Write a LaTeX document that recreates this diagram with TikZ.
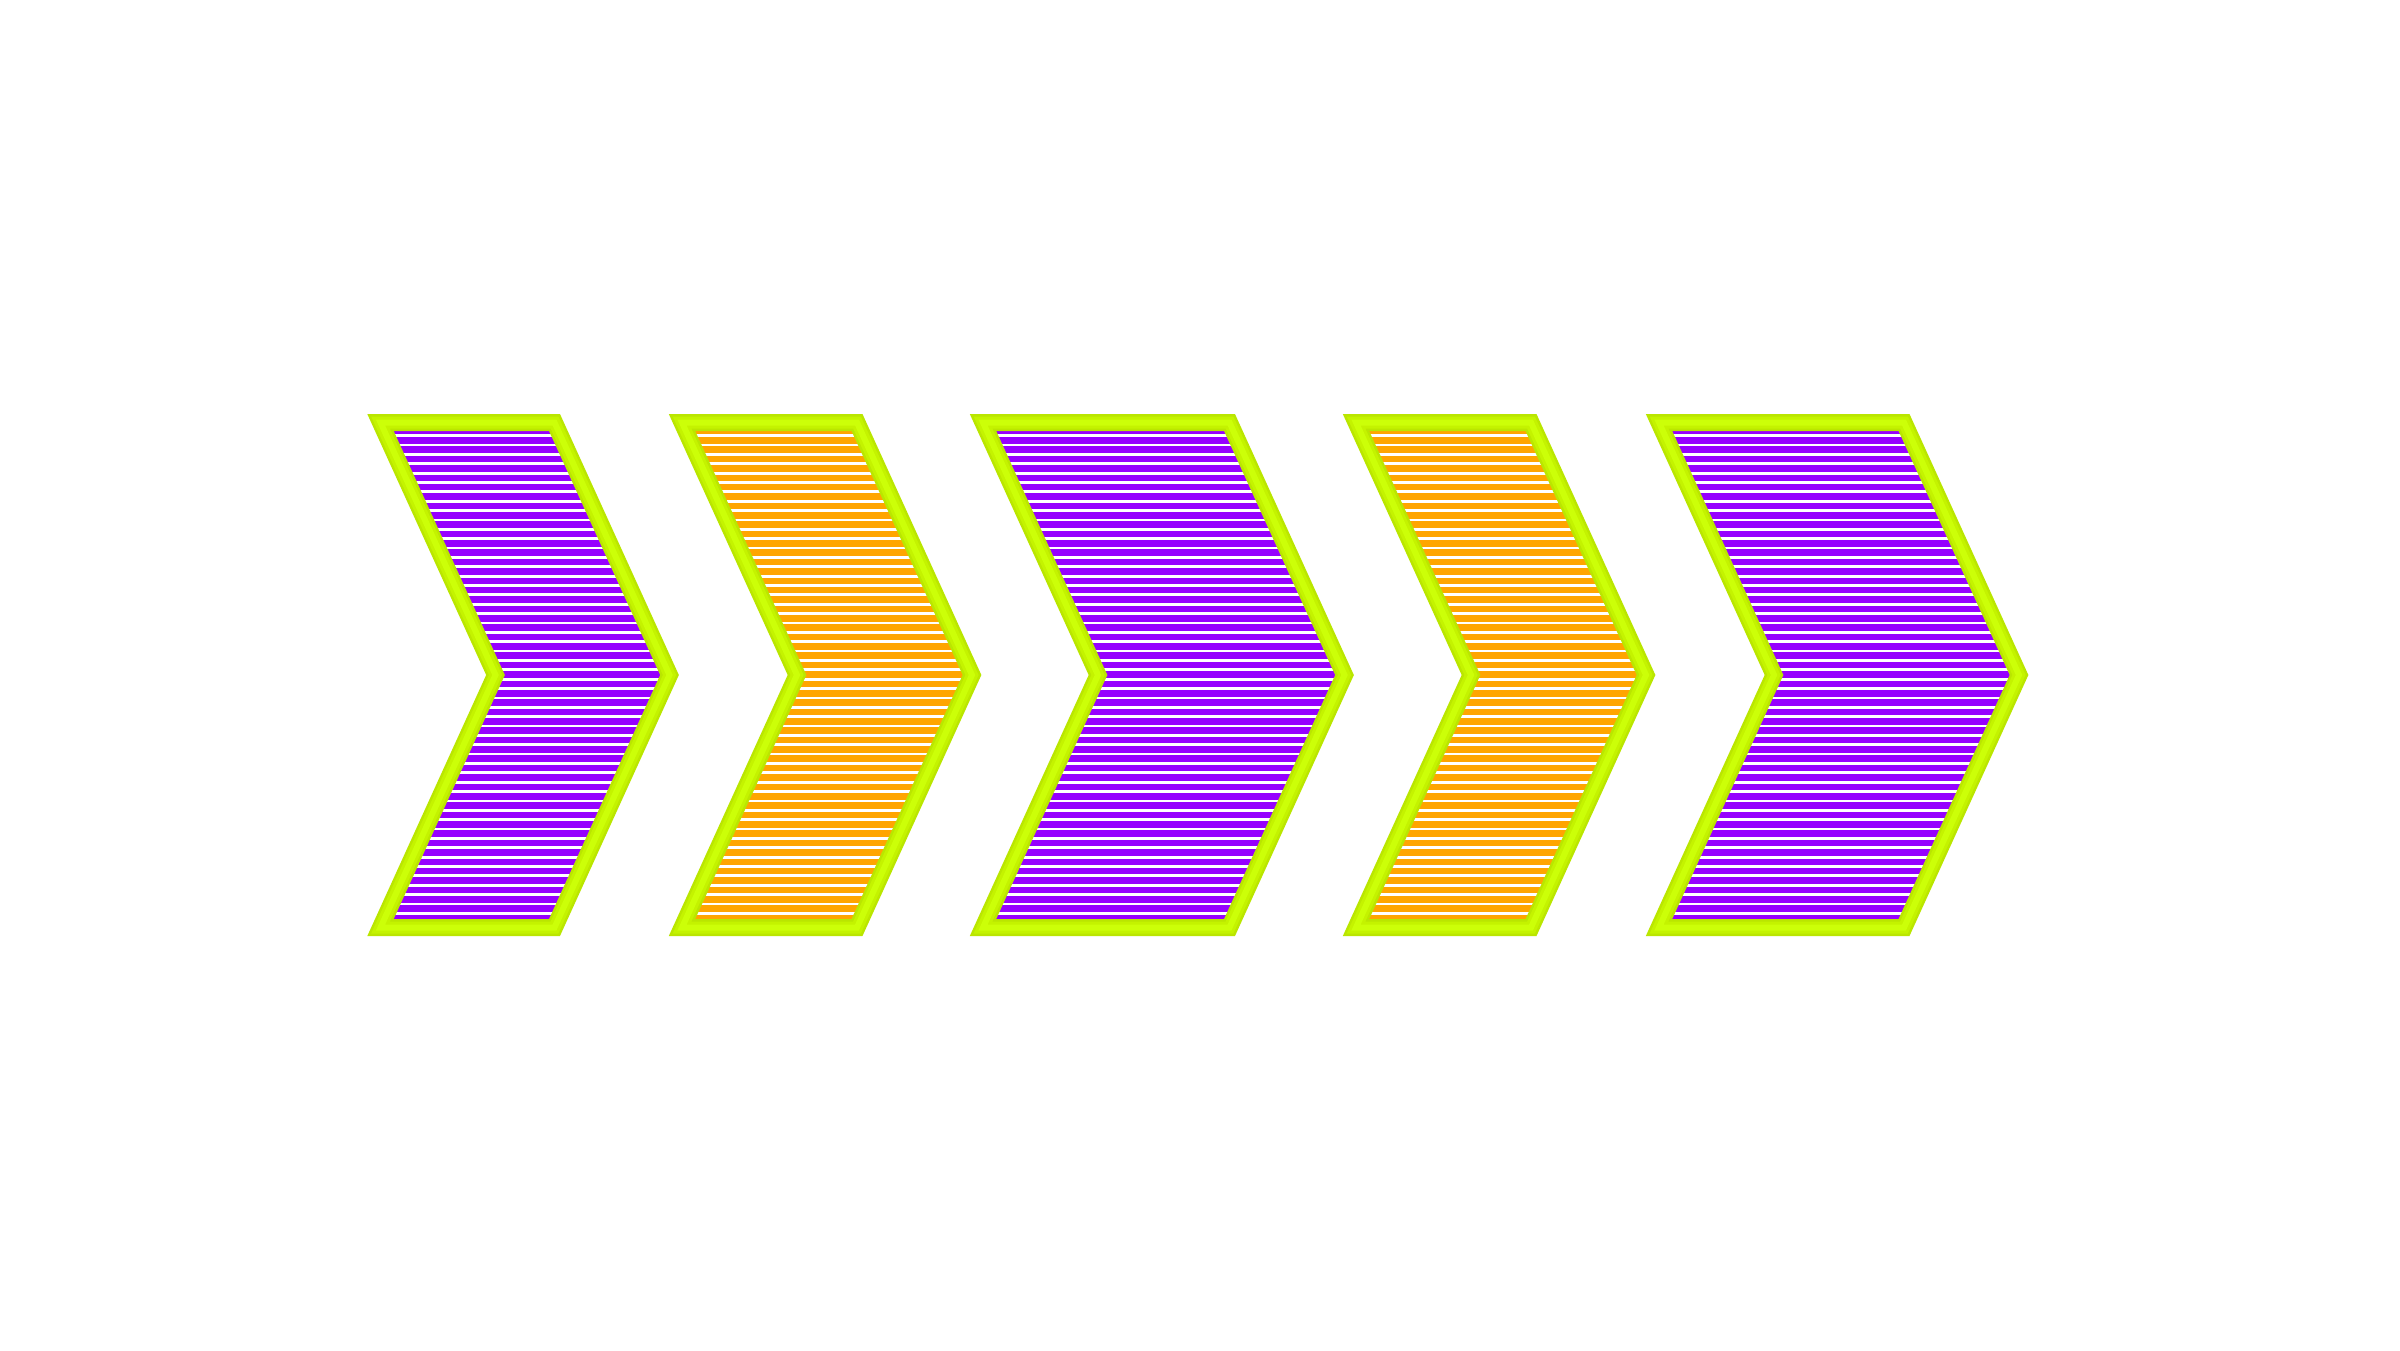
\documentclass[tikz,border=0pt]{standalone}
\definecolor{chpurple}{RGB}{150,0,255}
\definecolor{chorange}{RGB}{255,165,0}
\definecolor{chgreen}{RGB}{186,230,0}
\definecolor{chgreenmd}{RGB}{196,243,0}
\definecolor{chgreenlt}{RGB}{204,255,8}
\tikzset{
  chevborder/.style={draw=chgreen, line width=0.17cm, line join=miter},
  chevmid/.style={draw=chgreenmd, line width=0.12cm, line join=miter},
  chevcore/.style={draw=chgreenlt, line width=0.06cm, line join=miter},
  chevstripe/.style={draw=white, line width=0.028cm}
}
\newcommand\drawchev[3]{%
  \pgfmathsetmacro\xa{#1}%
  \pgfmathsetmacro\xb{#1+#2}%
  \pgfmathsetmacro\xc{#1+#2+1.15}%
  \pgfmathsetmacro\xd{#1+1.15}%
  \def\chevpath{(\xa,9.275) -- (\xb,9.275) -- (\xc,6.75) -- (\xb,4.225) -- (\xa,4.225) -- (\xd,6.75) -- cycle}%
  \fill[#3] \chevpath;
  \begin{scope}
    \clip \chevpath;
    \foreach \k in {0,...,51}{
      \pgfmathsetmacro\yy{9.143-\k*0.09365}
      \draw[chevstripe] (\xa-0.2,\yy) -- (\xc+0.2,\yy);
    }
  \end{scope}
  \draw[chevborder] \chevpath;
  \draw[chevmid] \chevpath;
  \draw[chevcore] \chevpath;
}
\begin{document}
\begin{tikzpicture}
\useasboundingbox (0,0) rectangle (24,13.5);
\fill[white] (0,0) rectangle (24,13.5);
\drawchev{3.805}{1.74}{chpurple}
\drawchev{6.82}{1.75}{chorange}
\drawchev{9.83}{2.465}{chpurple}
\drawchev{13.56}{1.75}{chorange}
\drawchev{16.59}{2.45}{chpurple}
\end{tikzpicture}
\end{document}
